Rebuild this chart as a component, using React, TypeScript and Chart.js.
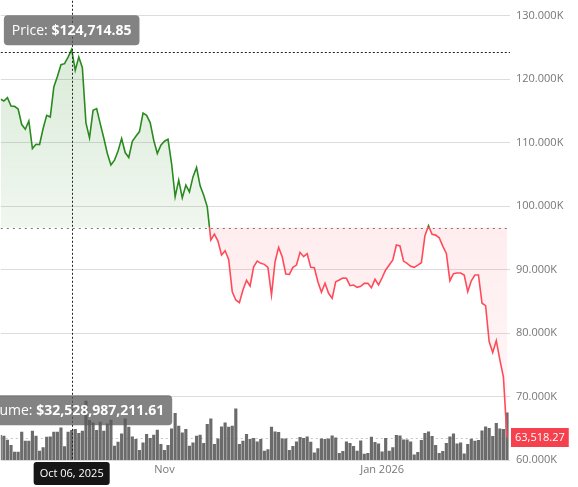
import React, { useEffect, useRef } from 'react';
import { Chart, registerables } from 'chart.js';

Chart.register(...registerables);

// ---- data ----
const START_DATE = '2025-09-16';

const PRICES = [
  116900, 116570, 117100, 115780, 115730, 115310, 112860, 112120, 113420, 109080,
  109760, 109710, 112230, 114320, 114050, 118770, 120450, 122290, 122450, 123490,
  124714.85, 121400, 123490, 121820, 113110, 110750, 115100, 115370, 113010, 110750,
  108290, 106500, 107240, 108700, 110650, 108450, 107670, 110230, 111020, 111750,
  114680, 114320, 113170, 110390, 108290, 109600, 110230, 110540, 106720, 101470,
  104090, 101310, 103310, 102250, 104610, 106090, 103200, 101730, 99890, 94650,
  95590, 94500, 92290, 92970, 91620, 86520, 85220, 84790, 86790, 88320,
  87420, 90450, 91350, 90990, 90830, 90360, 86000, 91240, 93510, 92030,
  89310, 89260, 90360, 90720, 92720, 92030, 92500, 90360, 90300, 88090,
  86430, 87840, 86270, 85480, 88090, 88360, 88680, 88630, 87470, 87580,
  87210, 87370, 87840, 87840, 87150, 88470, 87580, 88720, 89940, 90720,
  91510, 93870, 93720, 91350, 90990, 90520, 90360, 90720, 91080, 95330,
  96900, 95550, 95440, 95020, 93710, 92560, 88250, 89350, 89460, 89460,
  89150, 86520, 88250, 89150, 89150, 84700, 84320, 78660, 76930, 78810,
  75780, 73060, 63518.27,
];

// daily volume, billions of USD
const VOLUMES_B = [
  27.0, 26.3, 21.9, 16.1, 8.8, 8.8, 30.7, 20.8, 20.8, 31.8,
  26.3, 9.9, 13.5, 25.2, 25.5, 30.7, 30.7, 35.4, 14.6, 30.7,
  32.52898721161, 33.6, 29.2, 31.8, 64.6, 43.5, 40.8, 32.5, 41.6, 31.8,
  39.7, 43.8, 15.3, 19.7, 28.8, 45.2, 36.1, 25.5, 22.7, 10.6,
  18.9, 28.1, 23.8, 27.4, 32.9, 17.2, 10.6, 16.1, 34.3, 51.1,
  37.2, 29.9, 33.6, 15.3, 18.9, 26.3, 27.4, 18.3, 39.1, 45.2,
  17.2, 23.3, 36.5, 40.8, 36.1, 37.2, 56.2, 17.2, 20.8, 28.1,
  22.7, 23.9, 20.0, 22.7, 9.9, 11.3, 36.1, 31.0, 30.3, 23.3,
  23.3, 10.6, 15.0, 20.0, 24.9, 23.8, 25.5, 19.7, 8.0, 12.4,
  23.3, 22.7, 23.3, 26.6, 24.4, 7.3, 9.5, 20.0, 18.3, 15.0,
  9.9, 21.1, 6.6, 7.3, 25.2, 19.4, 17.8, 9.1, 23.8, 9.9,
  13.5, 27.0, 26.6, 22.2, 22.2, 20.0, 5.8, 8.4, 21.6, 29.2,
  31.0, 26.0, 16.1, 7.3, 9.5, 18.3, 25.5, 28.8, 17.8, 18.9,
  6.9, 17.2, 23.0, 20.8, 21.6, 32.1, 36.5, 34.7, 26.0, 40.2,
  34.3, 33.6, 51.8,
];

const BASELINE = 96630;
const VOLUME_REF_B = 24.4;
const TICK_DATES = ['2025-11-01', '2026-01-01'];
const TICK_LABELS = ['Nov', 'Jan 2026'];
const Y_TICKS = [60000, 70000, 80000, 90000, 100000, 110000, 120000, 130000];
const HOVER_INDEX = 20;
const CROSSHAIR_PRICE = 124230;

// ---- view settings ----
const Y_MIN = 60000;
const Y_MAX = 132360;
const VOL_MAX_B = 504;
const X_MIN = 0.14;
const X_MAX = 142.84;

const GREEN = '#2a8a1f';
const RED = '#ff4a5a';
const FONT = '"Open Sans", sans-serif';

const DAY = 86400000;
const START_MS = Date.parse(START_DATE + 'T00:00:00Z');
const dayIndex = (iso: string) => Math.round((Date.parse(iso + 'T00:00:00Z') - START_MS) / DAY);
const TICK_INDEXES = TICK_DATES.map(dayIndex);
const MONTHS = ['Jan', 'Feb', 'Mar', 'Apr', 'May', 'Jun', 'Jul', 'Aug', 'Sep', 'Oct', 'Nov', 'Dec'];
const formatDate = (i: number) => {
  const d = new Date(START_MS + i * DAY);
  return `${MONTHS[d.getUTCMonth()]} ${String(d.getUTCDate()).padStart(2, '0')}, ${d.getUTCFullYear()}`;
};
const money = (v: number) =>
  v.toLocaleString('en-US', { minimumFractionDigits: 2, maximumFractionDigits: 2 });

function rr(ctx: CanvasRenderingContext2D, x: number, y: number, w: number, h: number, r: number) {
  ctx.beginPath();
  if ((ctx as any).roundRect) (ctx as any).roundRect(x, y, w, h, r);
  else ctx.rect(x, y, w, h);
}

function drawTooltip(ctx: CanvasRenderingContext2D, cx: number, bottom: number, label: string, value: string) {
  ctx.save();
  ctx.font = `14px ${FONT}`;
  const w1 = ctx.measureText(label).width;
  ctx.font = `bold 14px ${FONT}`;
  const w2 = ctx.measureText(value).width;
  const pad = 8;
  const h = 30;
  const w = w1 + w2 + pad * 2;
  const x = cx - w / 2;
  const y = bottom - h;
  ctx.fillStyle = 'rgba(90,90,90,0.75)';
  rr(ctx, x, y, w, h, 4);
  ctx.fill();
  ctx.fillStyle = '#ffffff';
  ctx.textBaseline = 'middle';
  ctx.textAlign = 'left';
  ctx.font = `14px ${FONT}`;
  ctx.fillText(label, x + pad, y + h / 2 + 1);
  ctx.font = `bold 14px ${FONT}`;
  ctx.fillText(value, x + pad + w1, y + h / 2 + 1);
  ctx.restore();
}

const overlay = {
  id: 'overlay',
  beforeDatasetsDraw(chart: any) {
    const { ctx, chartArea: a, scales } = chart;
    ctx.save();
    ctx.lineWidth = 1;
    const by = Math.round(scales.y.getPixelForValue(BASELINE)) + 0.5;
    ctx.strokeStyle = '#777777';
    ctx.setLineDash([2, 4]);
    ctx.beginPath();
    ctx.moveTo(a.left, by);
    ctx.lineTo(a.right, by);
    ctx.stroke();
    const vy = Math.round(scales.yv.getPixelForValue(VOLUME_REF_B)) + 0.5;
    ctx.strokeStyle = '#c4c4c4';
    ctx.setLineDash([2, 3]);
    ctx.beginPath();
    ctx.moveTo(a.left, vy);
    ctx.lineTo(a.right, vy);
    ctx.stroke();
    ctx.restore();
  },
  afterDatasetsDraw(chart: any) {
    const { ctx, chartArea: a, scales } = chart;
    const cx = Math.round(scales.x.getPixelForValue(HOVER_INDEX)) + 0.5;
    const cy = Math.round(scales.y.getPixelForValue(CROSSHAIR_PRICE)) + 0.5;
    ctx.save();
    ctx.strokeStyle = '#222222';
    ctx.lineWidth = 1;
    ctx.setLineDash([2, 2]);
    ctx.beginPath();
    ctx.moveTo(a.left, cy);
    ctx.lineTo(a.right, cy);
    ctx.moveTo(cx, a.top);
    ctx.lineTo(cx, a.bottom);
    ctx.stroke();
    ctx.restore();
  },
  afterDraw(chart: any) {
    const { ctx, chartArea: a, scales } = chart;
    const cx = scales.x.getPixelForValue(HOVER_INDEX);
    const py = scales.y.getPixelForValue(PRICES[HOVER_INDEX]);
    drawTooltip(ctx, cx, py - 4, 'Price: ', '$' + money(PRICES[HOVER_INDEX]));
    const vy = scales.yv.getPixelForValue(VOLUMES_B[HOVER_INDEX]);
    drawTooltip(ctx, cx, vy - 5, 'Volume: ', '$' + money(VOLUMES_B[HOVER_INDEX] * 1e9));

    ctx.save();
    const dl = formatDate(HOVER_INDEX);
    ctx.font = `11px ${FONT}`;
    const dw = ctx.measureText(dl).width + 12;
    const dTop = a.bottom + 2;
    ctx.fillStyle = '#161616';
    rr(ctx, cx - dw / 2, dTop, dw, 23, 3);
    ctx.fill();
    ctx.fillStyle = '#ffffff';
    ctx.textAlign = 'center';
    ctx.textBaseline = 'middle';
    ctx.fillText(dl, cx, dTop + 12);

    const last = PRICES[PRICES.length - 1];
    const ly = scales.y.getPixelForValue(last);
    const lt = money(last);
    ctx.font = `11px ${FONT}`;
    const lw = ctx.measureText(lt).width + 8;
    ctx.fillStyle = '#f5404d';
    ctx.fillRect(a.right + 1, Math.round(ly - 9.5), lw, 19);
    ctx.fillStyle = '#ffffff';
    ctx.textAlign = 'left';
    ctx.textBaseline = 'middle';
    ctx.fillText(lt, a.right + 5, Math.round(ly - 9.5) + 10);
    ctx.restore();
  },
};

export default function App() {
  const ref = useRef<HTMLCanvasElement | null>(null);

  useEffect(() => {
    document.body.style.margin = '0';
    const canvas = ref.current;
    if (!canvas) return;
    Chart.defaults.font.family = FONT;

    const chart = new Chart(canvas, {
      type: 'line',
      data: {
        datasets: [
          {
            type: 'line',
            label: 'Price',
            data: PRICES.map((y, i) => ({ x: i, y })),
            yAxisID: 'y',
            borderColor: GREEN,
            borderWidth: 1.6,
            pointRadius: 0,
            tension: 0,
            fill: false,
            order: 0,
          } as any,
          {
            type: 'bar',
            label: 'Volume',
            data: VOLUMES_B.map((y, i) => ({ x: i, y })),
            yAxisID: 'yv',
            backgroundColor: '#6b6b6b',
            barThickness: 2.5,
            order: 1,
          } as any,
        ],
      },
      options: {
        responsive: false,
        animation: false,
        events: [],
        layout: { padding: 0 },
        plugins: { legend: { display: false }, tooltip: { enabled: false } },
        scales: {
          x: {
            type: 'linear',
            offset: false,
            min: X_MIN,
            max: X_MAX,
            grid: { display: false, drawTicks: false, offset: false },
            border: { display: false },
            ticks: {
              autoSkip: false,
              maxRotation: 0,
              padding: 3,
              color: '#777777',
              font: { size: 11, family: FONT },
              callback: (v: any) => TICK_LABELS[TICK_INDEXES.indexOf(Number(v))] ?? '',
            },
            afterBuildTicks: (s: any) => {
              s.ticks = TICK_INDEXES.map((value) => ({ value }));
            },
            afterFit: (s: any) => {
              s.height = 27;
              s.paddingLeft = 0;
              s.paddingRight = 0;
            },
          },
          y: {
            position: 'right',
            min: Y_MIN,
            max: Y_MAX,
            grid: { color: '#dcdcdc', drawTicks: false },
            border: { display: false },
            ticks: {
              padding: 6,
              color: '#777777',
              font: { size: 11, family: FONT },
              callback: (v: any) => (Number(v) / 1000).toFixed(3) + 'K',
            },
            afterBuildTicks: (s: any) => {
              s.ticks = Y_TICKS.map((value) => ({ value }));
            },
            afterFit: (s: any) => {
              s.width = 68;
              s.paddingTop = 0;
              s.paddingBottom = 0;
            },
          },
          yv: {
            display: false,
            min: 0,
            max: VOL_MAX_B,
          },
        },
      } as any,
      plugins: [overlay as any],
    });

    const a = chart.chartArea;
    const ys = chart.scales.y;
    const baseY = ys.getPixelForValue(BASELINE);
    const c = chart.ctx;
    const f = Math.min(Math.max((baseY - a.top) / (a.bottom - a.top), 0), 1);
    const line = c.createLinearGradient(0, a.top, 0, a.bottom);
    line.addColorStop(0, GREEN);
    line.addColorStop(f, GREEN);
    line.addColorStop(f, RED);
    line.addColorStop(1, RED);
    const up = c.createLinearGradient(0, a.top, 0, baseY);
    up.addColorStop(0, 'rgba(42,138,31,0.2)');
    up.addColorStop(1, 'rgba(42,138,31,0.07)');
    const down = c.createLinearGradient(0, baseY, 0, a.bottom);
    down.addColorStop(0, 'rgba(255,74,90,0.1)');
    down.addColorStop(1, 'rgba(255,74,90,0.03)');
    const ds: any = chart.data.datasets[0];
    ds.borderColor = line;
    ds.fill = { target: { value: BASELINE }, above: up, below: down };
    chart.update('none');

    return () => chart.destroy();
  }, []);

  return (
    <div style={{ width: 578, height: 487 }}>
      <canvas ref={ref} width={578} height={487} style={{ display: 'block' }} />
    </div>
  );
}
